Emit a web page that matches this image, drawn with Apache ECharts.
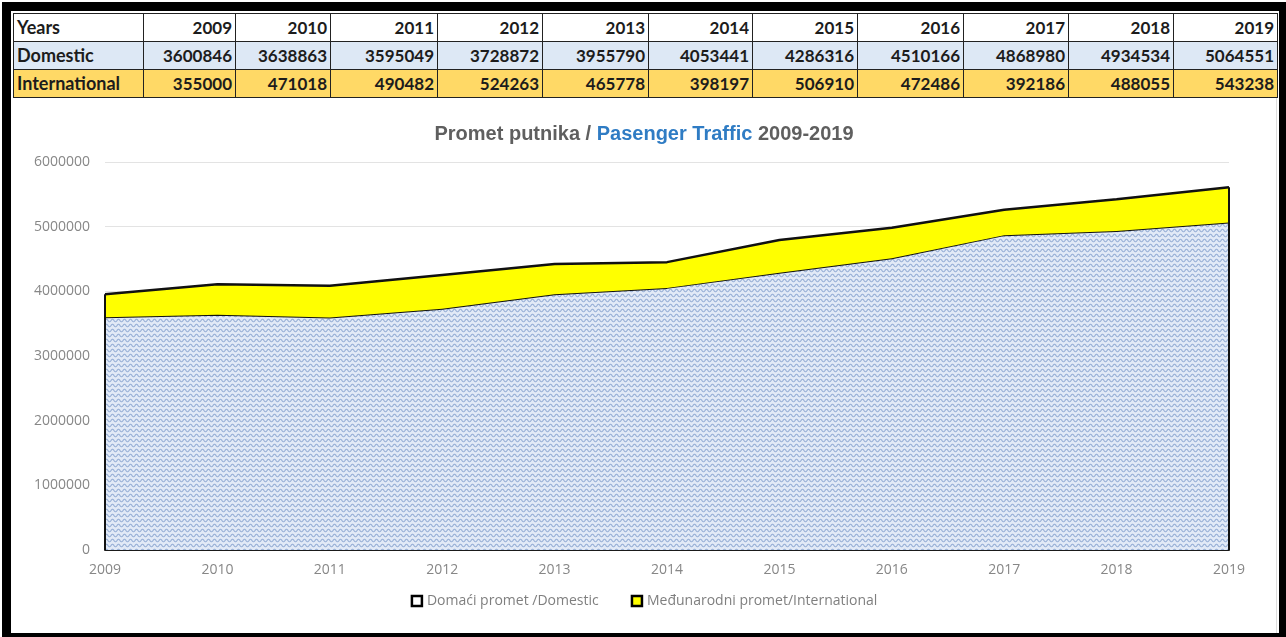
<!DOCTYPE html>
<html>
<head>
<meta charset="utf-8">
<script src="https://cdn.jsdelivr.net/npm/echarts@6/dist/echarts.min.js"></script>
<style>
  html, body { margin: 0; padding: 0; background: #fff; }
  #wrap { position: relative; width: 1286px; height: 637px; overflow: hidden; background: #fff; }
  #frame { position: absolute; left: 2px; top: 2px; width: 1268px; height: 622px;
           border-style: solid; border-color: #000; border-width: 9px 7px 4px 9px; }
  #tbl { position: absolute; left: 13px; top: 13px; border-collapse: collapse; table-layout: fixed;
         font-family: Lato, "Open Sans", sans-serif; font-weight: bold; font-size: 17px; color: #1c1c1c; }
  #tbl td { border: 1px solid #222; padding: 0 3px; height: 27px; line-height: 27px; text-align: right; white-space: nowrap; }
  #tbl td.head { text-align: left; font-size: 18px; }
  #tbl tr.r1 td { background: #ffffff; }
  #tbl tr.r2 td { background: #dde8f5; }
  #tbl tr.r3 td { background: #ffd966; }
  #panel { position: absolute; left: 12px; top: 98px; width: 1264px; height: 535px; border-right: 1px solid #ddd; }
  #chart { width: 1264px; height: 535px; }
</style>
</head>
<body>
<div id="wrap">
  <div id="frame"></div>
  <table id="tbl"></table>
  <div id="panel"><div id="chart"></div></div>
</div>
<script>
// 数据
const years = ['2009', '2010', '2011', '2012', '2013', '2014', '2015', '2016', '2017', '2018', '2019']
const domestic = [3600846, 3638863, 3595049, 3728872, 3955790, 4053441, 4286316, 4510166, 4868980, 4934534, 5064551]
const international = [355000, 471018, 490482, 524263, 465778, 398197, 506910, 472486, 392186, 488055, 543238]
const rowNames = ['Years', 'Domestic', 'International']
const seriesNames = ['Domaći promet /Domestic', 'Međunarodni promet/International']
const yTicks = [0, 1000000, 2000000, 3000000, 4000000, 5000000, 6000000]

// 表格列宽
const colWidths = [130, 92, 95, 107, 105, 106, 104, 105, 106, 105, 105, 104]

// 生成表格
const tbl = document.getElementById('tbl')
const cg = document.createElement('colgroup')
colWidths.forEach(w => {
  const c = document.createElement('col')
  c.style.width = w + 'px'
  cg.appendChild(c)
})
tbl.appendChild(cg)
const rows = [years, domestic, international]
rows.forEach((vals, i) => {
  const tr = document.createElement('tr')
  tr.className = 'r' + (i + 1)
  const th = document.createElement('td')
  th.className = 'head'
  th.textContent = rowNames[i]
  tr.appendChild(th)
  vals.forEach(v => {
    const td = document.createElement('td')
    td.textContent = v
    tr.appendChild(td)
  })
  tbl.appendChild(tr)
})

// 波纹填充
function wavePattern() {
  const cv = document.createElement('canvas')
  cv.width = 6
  cv.height = 5
  const ctx = cv.getContext('2d')
  ctx.fillStyle = '#e2eaf7'
  ctx.fillRect(0, 0, 6, 5)
  ctx.strokeStyle = '#93acd4'
  ctx.lineWidth = 1.1
  ctx.beginPath()
  for (let x = -1; x <= 7; x += 0.25) {
    const y = 2.5 + 1.3 * Math.sin(2 * Math.PI * x / 6)
    if (x === -1) ctx.moveTo(x, y)
    else ctx.lineTo(x, y)
  }
  ctx.stroke()
  return cv
}

const totals = domestic.map((d, i) => d + international[i])
const last = years.length - 1

const chart = echarts.init(document.getElementById('chart'))
const option = {
  animation: false,
  title: {
    text: '{a|Promet putnika / }{b|Pasenger Traffic}{a| 2009-2019}',
    left: 'center',
    top: 21,
    textStyle: {
      rich: {
        a: { fontFamily: 'Liberation Sans', fontWeight: 'bold', fontSize: 20, color: '#5f5f5f' },
        b: { fontFamily: 'Liberation Sans', fontWeight: 'bold', fontSize: 20, color: '#2f7cc4' }
      }
    }
  },
  legend: {
    bottom: 20,
    left: 'center',
    icon: 'rect',
    itemWidth: 10,
    itemHeight: 10,
    itemGap: 32,
    textStyle: { fontFamily: 'Open Sans', fontSize: 14, color: '#7f7f7f', padding: [0, 0, 0, 0] },
    data: [
      { name: seriesNames[0], itemStyle: { color: '#ffffff', borderColor: '#000', borderWidth: 2.5 } },
      { name: seriesNames[1], itemStyle: { color: '#ffff00', borderColor: '#000', borderWidth: 2.5 } }
    ]
  },
  grid: { left: 93, right: 47, top: 64, bottom: 83 },
  xAxis: {
    type: 'category',
    data: years,
    boundaryGap: false,
    axisLine: { lineStyle: { color: '#1a1a1a', width: 2 } },
    axisTick: { show: false },
    axisLabel: { fontFamily: 'Open Sans', fontSize: 14, color: '#878787', margin: 13 }
  },
  yAxis: {
    type: 'value',
    min: yTicks[0],
    max: yTicks[yTicks.length - 1],
    interval: yTicks[1] - yTicks[0],
    axisLine: { show: false },
    axisTick: { show: false },
    splitLine: { lineStyle: { color: '#e3e3e3', width: 1 } },
    axisLabel: { fontFamily: 'Open Sans', fontSize: 14, color: '#878787', margin: 15, formatter: v => String(v) }
  },
  series: [
    {
      name: seriesNames[0],
      type: 'line',
      stack: 'total',
      data: domestic,
      symbol: 'none',
      color: '#ffffff',
      lineStyle: { color: '#111', width: 2 },
      areaStyle: { color: { image: wavePattern(), repeat: 'repeat' }, opacity: 1 },
      z: 2
    },
    {
      name: seriesNames[1],
      type: 'line',
      stack: 'total',
      data: international,
      symbol: 'none',
      color: '#ffff00',
      lineStyle: { color: '#111', width: 2.5 },
      areaStyle: { color: '#ffff00', opacity: 1 },
      z: 3,
      markLine: {
        silent: true,
        symbol: 'none',
        label: { show: false },
        lineStyle: { color: '#111', width: 2, type: 'solid' },
        data: [
          [{ coord: [years[0], 0] }, { coord: [years[0], totals[0]] }],
          [{ coord: [years[last], 0] }, { coord: [years[last], totals[last]] }]
        ]
      }
    }
  ]
}
chart.setOption(option)
</script>
</body>
</html>
